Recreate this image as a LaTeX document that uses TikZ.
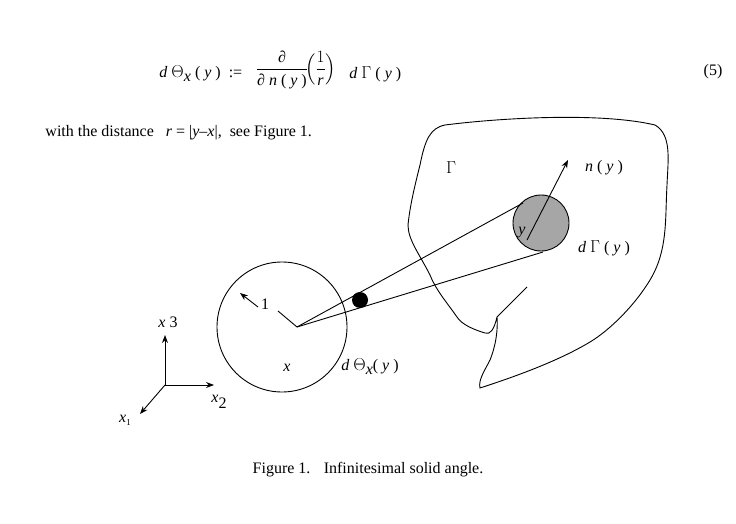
\documentclass[tikz,border=0pt]{standalone}
\usepackage{amsmath}
\usepackage{fontspec}
\setmainfont{Liberation Serif}
\usetikzlibrary{arrows.meta}
\newcommand{\iv}[1]{\textit{#1}}
\begin{document}
\begin{tikzpicture}[x=1pt,y=-1pt,line width=0.9pt,
  lbl/.style={font=\fontsize{16}{19}\selectfont,inner sep=1pt},
  arr/.style={-{Stealth[length=8pt,width=6pt]}}]
\useasboundingbox (0,0) rectangle (736,524);
% formula
\node[lbl,anchor=west] (f1) at (158,74) {\iv{d} $\Theta$\raisebox{-4pt}{\iv{x}} ( \iv{y} ) \ :=};
\node[lbl] (f2) at (296,70) {$\dfrac{\text{\iv{∂}}}{\text{\iv{∂} \iv{n} ( \iv{y} )}}\!\Bigl(\dfrac{1}{\text{\iv{r}}}\Bigr)$};
\node[lbl,anchor=west] (f4) at (348,74) {\iv{d} $\Gamma$ ( \iv{y} )};
\node[lbl] (f3) at (713,72) {(5)};
\node[lbl,anchor=west] (t1) at (44,133) {with the distance \ \ \iv{r} = |\iv{y}–\iv{x}|, \ see Figure 1.};
% blob
\draw (497,317) .. controls (494,330) and (490,335) .. (485,333)
  .. controls (475,330) and (462,325) .. (457,317)
  .. controls (445,300) and (436,290) .. (430,275)
  .. controls (420,255) and (408,240) .. (408,225)
  .. controls (410,205) and (415,185) .. (420,165)
  .. controls (425,140) and (430,128) .. (445,125)
  .. controls (500,118) and (600,112) .. (655,125)
  .. controls (672,135) and (668,160) .. (667,185)
  .. controls (665,220) and (668,250) .. (650,280)
  .. controls (635,305) and (610,330) .. (590,342)
  .. controls (560,360) and (520,375) .. (480,388)
  .. controls (478,380) and (485,370) .. (490,360)
  .. controls (496,345) and (498,330) .. (497,317) -- (527,287);
% circle
\coordinate (x) at (297,327);
\draw (282,327) circle (65);
\draw (x) -- (278,311);
\draw[arr] (258,307) -- (240,293);
\node[lbl] (one) at (265,304) {1};
\node[lbl] (xl) at (287,368) {\iv{x}};
% disk
\fill[gray!70] (541,223) circle (28);
\draw (541,223) circle (28);
\draw (x) -- (523,203);
\draw (x) -- (543,252);
\fill (360,300) circle (8);
\node[lbl] (xi) at (370,367) {\iv{d} $\Theta$\raisebox{-4pt}{\iv{x}}( \iv{y} )};
\draw[arr] (527,240) -- (568,160);
\node[lbl] (yl) at (522,233) {\iv{y}};
\node[lbl] (nl) at (604,168) {\iv{n} ( \iv{y} )};
\node[lbl] (dg) at (604,248) {\iv{d} $\Gamma$ ( \iv{y} )};
\node[lbl] (gm) at (451,168) {$\Gamma$};
% axes
\coordinate (o) at (165,385);
\draw[arr] (o) -- (165,335);
\draw[arr] (o) -- (214,385);
\draw[arr] (o) -- (140,414);
\node[lbl] (x3) at (168,322) {\iv{x} 3};
\node[lbl] (x2) at (219,402) {\iv{x}\raisebox{-6pt}{2}};
\node[lbl] (x1) at (125,420) {\iv{x}\raisebox{-3pt}{\small 1}};
\node[lbl] (cap) at (368,470) {Figure 1. \ \ Infinitesimal solid angle.};
\end{tikzpicture}
\end{document}
